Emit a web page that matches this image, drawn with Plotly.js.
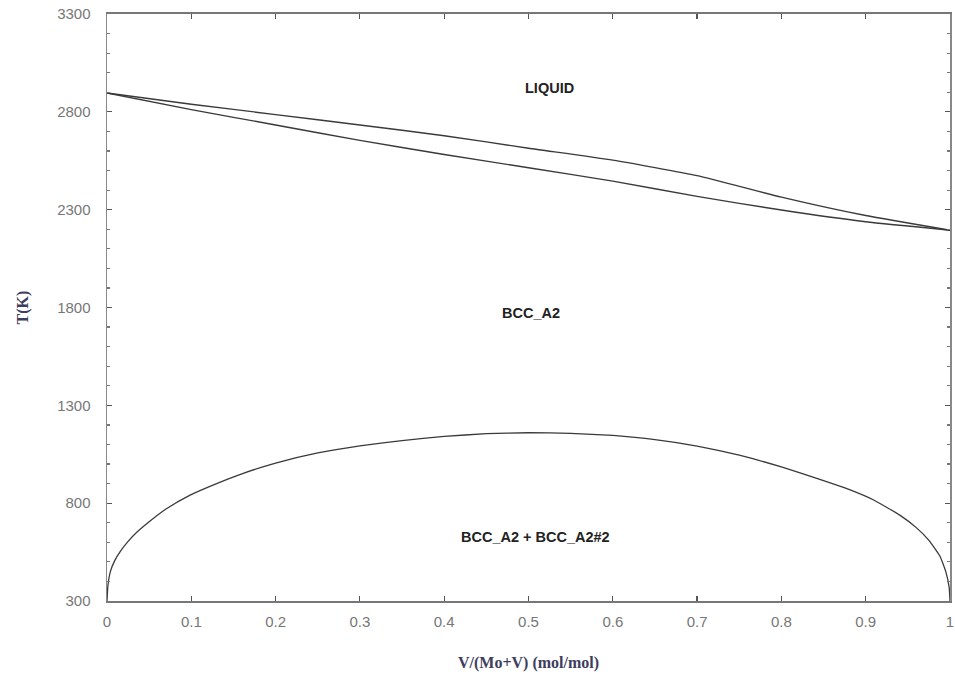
<!DOCTYPE html>
<html>
<head>
<meta charset="utf-8">
<script src="https://cdn.plot.ly/plotly-3.0.1.min.js"></script>
<style>html,body{margin:0;padding:0;background:#fff;}#chart{width:955px;height:675px;}</style>
</head>
<body>
<div id="chart"></div>
<script>
// Liquidus (upper) and solidus (lower) curves
const liqX = [0, 0.1, 0.2, 0.3, 0.4, 0.5, 0.6, 0.7, 0.8, 0.9, 1];
const liqT = [2896, 2839, 2786, 2733, 2678, 2614, 2553, 2474, 2364, 2270, 2195];
const solX = [0, 0.1, 0.2, 0.3, 0.4, 0.5, 0.6, 0.7, 0.8, 0.9, 1];
const solT = [2896, 2811, 2733, 2654, 2582, 2514, 2446, 2368, 2298, 2238, 2195];
// Miscibility gap (BCC_A2 + BCC_A2#2)
const gapX = [0, 0.001, 0.004, 0.009, 0.016, 0.025, 0.035, 0.05, 0.07, 0.098, 0.13, 0.16, 0.2, 0.25, 0.3, 0.35, 0.4, 0.45, 0.5, 0.55, 0.6, 0.65, 0.7, 0.75, 0.8, 0.85, 0.88, 0.91, 0.94, 0.96, 0.975, 0.988, 0.995, 0.999, 1];
const gapT = [300, 375, 450, 505, 555, 605, 650, 705, 770, 840, 900, 950, 1005, 1057, 1093, 1120, 1141, 1155, 1160, 1157, 1146, 1125, 1092, 1045, 985, 915, 870, 815, 740, 675, 610, 530, 450, 370, 300];
// Phase labels
const labelText = ["LIQUID", "BCC_A2", "BCC_A2 + BCC_A2#2"];
const labelX = [0.525, 0.503, 0.508];
const labelT = [2920, 1772, 629];
const yTicks = [300, 800, 1300, 1800, 2300, 2800, 3300];
const xTicks = [0, 0.1, 0.2, 0.3, 0.4, 0.5, 0.6, 0.7, 0.8, 0.9, 1];

const traces = [
  {x: liqX, y: liqT, mode: 'lines', line: {color: '#3a3a3a', width: 1.4, shape: 'spline', smoothing: 0.5}, hoverinfo: 'skip'},
  {x: solX, y: solT, mode: 'lines', line: {color: '#3a3a3a', width: 1.4, shape: 'spline', smoothing: 0.5}, hoverinfo: 'skip'},
  {x: gapX, y: gapT, mode: 'lines', line: {color: '#3a3a3a', width: 1.3, shape: 'spline', smoothing: 0.4}, hoverinfo: 'skip'}
];

const annotations = labelText.map((t, i) => ({
  x: labelX[i], y: labelT[i], xref: 'x', yref: 'y', text: t, showarrow: false,
  font: {family: 'Liberation Sans, Arial, sans-serif', size: 14.5, color: '#222', weight: 'bold'},
  xanchor: 'center', yanchor: 'middle'
}));

const tickFont = {family: 'Liberation Sans, Arial, sans-serif', size: 15, color: '#777'};
const titleFont = {family: 'Liberation Serif, Times New Roman, serif', size: 16, color: '#3d3d5e', weight: 'bold'};

const layout = {
  width: 955, height: 675,
  margin: {l: 107, r: 5, t: 14, b: 74},
  paper_bgcolor: '#fff', plot_bgcolor: '#fff',
  showlegend: false,
  annotations: annotations,
  xaxis: {
    range: [0, 1], tickvals: xTicks, ticktext: xTicks.map(v => String(v)),
    ticks: 'inside', ticklen: 5, tickwidth: 1.2, tickcolor: '#555',
    showline: true, linecolor: '#777', linewidth: 2, mirror: 'ticks',
    showgrid: false, zeroline: false, tickfont: tickFont, ticklabelstandoff: 6,
    ticklabeloverflow: 'allow',
    title: {text: 'V/(Mo+V) (mol/mol)', font: titleFont, standoff: 28}
  },
  yaxis: {
    range: [300, 3300], tickvals: yTicks,
    ticks: 'inside', ticklen: 5, tickwidth: 1.2, tickcolor: '#555',
    minor: {dtick: 100, ticks: 'inside', ticklen: 3, tickcolor: '#777', showgrid: false},
    showline: true, linecolor: '#888', linewidth: 1.5, mirror: 'ticks',
    showgrid: false, zeroline: false, tickfont: tickFont, ticklabelstandoff: 12,
    ticklabeloverflow: 'allow',
    title: {text: 'T(K)', font: titleFont, standoff: 24}
  }
};

Plotly.newPlot('chart', traces, layout, {staticPlot: true, displayModeBar: false});
</script>
</body>
</html>
